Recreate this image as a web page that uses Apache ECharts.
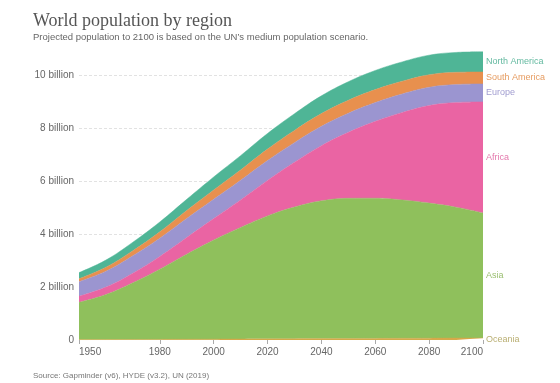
<!DOCTYPE html>
<html>
<head>
<meta charset="utf-8">
<script src="https://cdn.jsdelivr.net/npm/echarts@6/dist/echarts.min.js"></script>
<style>
html,body{margin:0;padding:0;background:#fff;}
#chart{width:560px;height:383px;}
</style>
</head>
<body>
<div id="chart"></div>
<script>
const years = ['1950','1960','1970','1980','1990','2000','2010','2020','2030','2040','2050','2060','2070','2080','2090','2100'];
const oceania = [0.013,0.016,0.020,0.023,0.027,0.031,0.037,0.043,0.048,0.053,0.057,0.061,0.065,0.068,0.072,0.075];
const asia = [1.41,1.70,2.14,2.65,3.21,3.74,4.21,4.64,4.97,5.20,5.29,5.29,5.22,5.10,4.94,4.72];
const africa = [0.23,0.28,0.36,0.48,0.63,0.81,1.04,1.34,1.69,2.08,2.49,2.90,3.30,3.68,3.95,4.19];
const europe = [0.55,0.60,0.66,0.69,0.72,0.73,0.74,0.75,0.74,0.73,0.72,0.71,0.70,0.69,0.68,0.68];
const southAmerica = [0.11,0.15,0.19,0.24,0.30,0.35,0.39,0.43,0.46,0.48,0.49,0.49,0.48,0.47,0.46,0.45];
const northAmerica = [0.23,0.27,0.32,0.37,0.42,0.49,0.54,0.59,0.63,0.67,0.70,0.72,0.73,0.74,0.75,0.76];
const regionNames = ['Oceania','Asia','Africa','Europe','South America','North America'];
const xTickLabels = ['1950','1980','2000','2020','2040','2060','2080','2100'];
const yTickLabels = ['0','2 billion','4 billion','6 billion','8 billion','10 billion'];

const seriesData = [oceania, asia, africa, europe, southAmerica, northAmerica];
const fillColors = ['#d6a94a','#8fc05c','#ea64a3','#9b95d0','#e8904e','#4fb596'];
const labelColors = ['#a89a4e','#7fae4b','#dc5596','#8a84c4','#e0833a','#3ca888'];

const chart = echarts.init(document.getElementById('chart'), null, {renderer:'canvas'});

const series = [];
seriesData.forEach((arr, i) => {
  series.push({
    name: regionNames[i],
    type: 'line',
    stack: 'pop',
    smooth: 0.4,
    showSymbol: false,
    symbol: 'none',
    lineStyle: {width: 0.5, color: fillColors[i]},
    areaStyle: {color: fillColors[i], opacity: 1},
    itemStyle: {color: fillColors[i]},
    data: arr.slice(),
    z: 2
  });
});
// end labels at band midpoints
const last = years.length - 1;
let cum = 0;
const labelData = seriesData.map((arr, i) => {
  const mid = cum + arr[last] / 2;
  cum += arr[last];
  return {
    value: [years[last], i === 0 ? 0 : mid],
    label: {formatter: regionNames[i], color: labelColors[i]}
  };
});
series.push({
  type: 'scatter',
  symbolSize: 0,
  clip: false,
  silent: true,
  data: labelData,
  label: {show: true, position: 'right', distance: 3, fontSize: 9, fontFamily: 'Liberation Sans, Arial, sans-serif'},
  z: 5
});

chart.setOption({
  animation: false,
  backgroundColor: '#fff',
  title: [
    {text: 'World population by region', left: 33, top: 12, padding: 0,
     textStyle: {fontFamily: 'Liberation Serif, DejaVu Serif, serif', fontSize: 18, fontWeight: 'normal', color: '#555'}},
    {text: 'Projected population to 2100 is based on the UN’s medium population scenario.', left: 33, top: 32, padding: 0,
     textStyle: {fontFamily: 'Liberation Sans, Arial, sans-serif', fontSize: 9.5, fontWeight: 'normal', color: '#666'}},
    {text: 'Source: Gapminder (v6), HYDE (v3.2), UN (2019)', left: 33, top: 372, padding: 0,
     textStyle: {fontFamily: 'Liberation Sans, Arial, sans-serif', fontSize: 8, fontWeight: 'normal', color: '#777'}}
  ],
  grid: {left: 79, right: 77, top: 48.5, bottom: 43},
  xAxis: {
    type: 'category', data: years, boundaryGap: false, z: 10,
    axisLine: {show: false},
    axisTick: {show: true, length: 4, lineStyle: {color: '#aaa', width: 1},
      interval: (idx, val) => xTickLabels.indexOf(String(val)) >= 0},
    splitLine: {show: false},
    axisLabel: {
      color: '#666', fontSize: 10, fontFamily: 'Liberation Sans, Arial, sans-serif', margin: 7,
      interval: 0,
      alignMinLabel: 'left', alignMaxLabel: 'right',
      formatter: v => xTickLabels.indexOf(v) >= 0 ? v : ''
    }
  },
  yAxis: {
    type: 'value', min: 0, max: 11, interval: 2,
    axisLine: {show: false},
    axisTick: {show: false},
    splitLine: {show: true, showMaxLine: false, showMinLine: false,
      lineStyle: {color: '#e2e2e2', type: [3, 2], width: 1}},
    axisLabel: {
      color: '#666', fontSize: 10, fontFamily: 'Liberation Sans, Arial, sans-serif', margin: 5,
      formatter: v => (v % 2 === 0 && v <= 10) ? yTickLabels[v / 2] : ''
    }
  },
  series: series
});
</script>
</body>
</html>
